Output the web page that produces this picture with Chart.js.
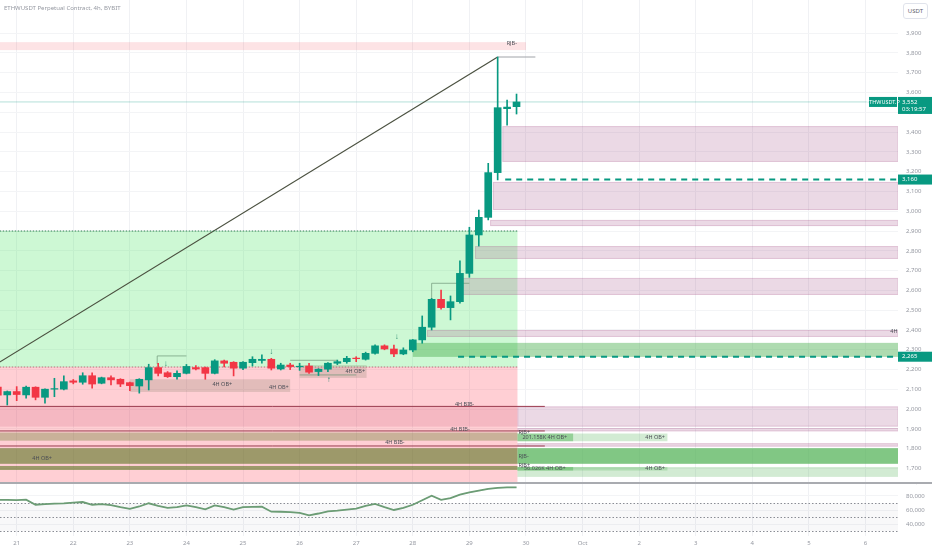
<!DOCTYPE html>
<html>
<head>
<meta charset="utf-8">
<title>ETHWUSDT 4h</title>
<script src="https://cdn.jsdelivr.net/npm/chart.js@4.4.1/dist/chart.umd.min.js"></script>
<style>
  html, body { margin: 0; padding: 0; background: #fff; }
  #wrap { position: relative; width: 932px; height: 550px; overflow: hidden; font-family: "Noto Sans", sans-serif; }
  #main { position: absolute; left: 0; top: 0; width: 932px; height: 484px; }
  #ind { position: absolute; left: 0; top: 484px; width: 932px; height: 66px; }
  #sep { position: absolute; left: 0; top: 482px; width: 932px; height: 2px; background: #a9abb0; }
  #title { position: absolute; left: 4px; top: 4px; font-size: 6px; color: #9598a1; }
  #unit { position: absolute; right: 4px; top: 3px; font-size: 6px; color: #5d606b; border: 1px solid #e0e3eb; border-radius: 3px; padding: 3px 4px; background: #fff; }
</style>
</head>
<body>
<div id="wrap">
  <div id="main"><canvas id="mainChart"></canvas></div>
  <div id="ind"><canvas id="indChart"></canvas></div>
  <div id="sep"></div>
  <div id="title">ETHWUSDT Perpetual Contract, 4h, BYBIT</div>
  <div id="unit">USDT</div>
</div>
<script>
// 4h candles, x = candle number (0 = 20 Sep 20:00, 1 = 21 Sep 00:00)
var FIRST_CANDLE = -1;
var OPEN  = [2111, 2072, 2089, 2072, 2111, 2060, 2101, 2101, 2143, 2136, 2169, 2131, 2159, 2151, 2134, 2117,
             2148, 2210, 2184, 2164, 2181, 2210, 2210, 2181, 2244, 2237, 2207, 2235, 2246, 2252, 2203, 2223,
             2214, 2218, 2190, 2202, 2232, 2240, 2258, 2252, 2282, 2320, 2304, 2279, 2299, 2350, 2414, 2555,
             2513, 2543, 2686, 2880, 2969, 3195, 3518, 3528];
var HIGH  = [2118, 2092, 2114, 2117, 2113, 2103, 2156, 2168, 2150, 2184, 2184, 2162, 2169, 2154, 2137, 2154,
             2227, 2232, 2190, 2194, 2226, 2220, 2213, 2250, 2248, 2240, 2240, 2265, 2274, 2257, 2232, 2232,
             2232, 2232, 2205, 2236, 2248, 2267, 2265, 2288, 2325, 2325, 2324, 2310, 2352, 2471, 2560, 2602,
             2572, 2750, 2919, 3006, 3242, 3779, 3562, 3592];
var LOW   = [2062, 2021, 2043, 2055, 2047, 2030, 2063, 2097, 2128, 2126, 2106, 2128, 2122, 2114, 2094, 2081,
             2097, 2168, 2160, 2151, 2178, 2198, 2151, 2178, 2213, 2168, 2200, 2218, 2232, 2198, 2198, 2200,
             2196, 2180, 2170, 2190, 2225, 2232, 2240, 2248, 2278, 2300, 2265, 2275, 2290, 2333, 2400, 2505,
             2451, 2535, 2666, 2824, 2956, 3158, 3435, 3491];
var CLOSE = [2071, 2089, 2074, 2111, 2060, 2101, 2104, 2139, 2136, 2169, 2127, 2159, 2148, 2127, 2119, 2151,
             2210, 2181, 2164, 2181, 2216, 2203, 2181, 2244, 2232, 2207, 2237, 2252, 2252, 2207, 2223, 2215,
             2217, 2187, 2202, 2232, 2240, 2257, 2255, 2282, 2320, 2304, 2279, 2299, 2350, 2414, 2555, 2513,
             2543, 2686, 2880, 2969, 3195, 3523, 3526, 3552];
// lower pane line, one value per candle
var FLOW  = [74500, 74500, 74000, 74700, 67500, 68500, 69000, 69500, 70500, 71400, 67500, 68500, 67000, 64000,
             61500, 65000, 69600, 66000, 63000, 64000, 66500, 64000, 61000, 66500, 64000, 60500, 64000, 64500,
             64700, 57600, 57500, 57000, 56000, 52400, 55000, 58000, 59000, 60500, 62000, 66000, 68600, 64000,
             60000, 63000, 67500, 74000, 80400, 74500, 77000, 82000, 85000, 87500, 90000, 91500, 92400, 92400];
var FLOW_LEVELS = [70000, 50000, 30000];

var DAY_TICKS  = [1, 7, 13, 19, 25, 31, 37, 43, 49, 55, 61, 67, 73, 79, 85, 91];
var DAY_LABELS = ['21', '22', '23', '24', '25', '26', '27', '28', '29', '30', 'Oct', '2', '3', '4', '5', '6'];
var PRICE_TICKS = [1700, 1800, 1900, 2000, 2100, 2200, 2300, 2400, 2500, 2600, 2700, 2800, 2900,
                   3000, 3100, 3200, 3300, 3400, 3500, 3600, 3700, 3800, 3900];
var FLOW_TICKS = [40000, 60000, 80000, 100000];

// zones: [from candle, to candle, top price, bottom price, kind]
var ZONES = [
  [-0.8, 55, 3854, 3814, 'rjb'],
  [-0.8, 54.1, 2900, 2213, 'bull'],
  [-0.8, 54.1, 2213, 1600, 'bear'],
  [-0.8, 54.1, 2014, 1912, 'bib'],
  [-0.8, 54.1, 1882, 1841, 'oliveLight'],
  [-0.8, 54.1, 1803, 1724, 'olive'],
  [-0.8, 54.1, 1713, 1693, 'olive'],
  [13, 30, 2151, 2087, 'ob'],
  [31, 38.1, 2223, 2158, 'ob'],
  [52.5, 94.5, 3430, 3249, 'mauve'],
  [51.5, 94.5, 3148, 3006, 'mauve'],
  [51.2, 94.5, 2956, 2925, 'mauve'],
  [49.6, 94.5, 2824, 2759, 'mauve'],
  [48.2, 94.5, 2663, 2577, 'mauve'],
  [44.5, 94.5, 2400, 2365, 'mauve'],
  [43.0, 94.5, 2335, 2264, 'green'],
  [54.1, 94.5, 2014, 1912, 'mauve'],
  [54.1, 94.5, 1905, 1888, 'mauve'],
  [54.1, 70, 1877, 1838, 'greenLight'],
  [54.1, 60, 1877, 1838, 'green'],
  [54.1, 94.5, 1828, 1811, 'mauve'],
  [54.1, 94.5, 1803, 1724, 'greenDark'],
  [54.1, 94.5, 1708, 1658, 'greenLight'],
  [54.1, 70, 1708, 1690, 'greenLight'],
  [54.1, 60, 1708, 1690, 'green']
];
// lines: [from candle, price, to candle, price, kind]
var LINES = [
  [-0.8, 3552, 94.5, 3552, 'last'],
  [-0.8, 2238, 52, 3779, 'trend'],
  [52, 3779, 56, 3779, 'thin'],
  [-0.8, 2900, 54.1, 2900, 'dotGreen'],
  [-0.8, 2213, 54.1, 2213, 'dotRed'],
  [-0.8, 2014, 57, 2014, 'bib'],
  [-0.8, 1890, 57, 1890, 'bib'],
  [-0.8, 1814, 57, 1814, 'bib'],
  [47.8, 2265, 94.5, 2265, 'dash'],
  [52.8, 3160, 94.5, 3160, 'dash'],
  [45, 2636, 49, 2636, 'swing'],
  [45, 2636, 45, 2560, 'swing'],
  [15.9, 2269, 19, 2269, 'swing'],
  [15.9, 2269, 15.9, 2228, 'swing'],
  [30, 2247, 35, 2247, 'swing'],
  [31, 2173, 37, 2173, 'swing']
];
// labels: [candle, price, text, align]
var LABELS = [
  [53.5, 3846, 'RJB-', 'center'],
  [48.5, 2024, '4H BIB-', 'center'],
  [48.0, 1899, '4H BIB-', 'center'],
  [41.1, 1830, '4H BIB-', 'center'],
  [54.2, 1880, 'RJB+', 'left'],
  [57.0, 1857, '201.158K 4H OB+', 'center'],
  [68.7, 1857, '4H OB+', 'center'],
  [54.2, 1760, 'RJB-', 'left'],
  [54.2, 1718, 'RJB+', 'left'],
  [57.0, 1699, '56.026K 4H OB+', 'center'],
  [68.7, 1699, '4H OB+', 'center'],
  [22.8, 2126, '4H OB+', 'center'],
  [28.8, 2109, '4H OB+', 'center'],
  [36.9, 2193, '4H OB+', 'center'],
  [3.7, 1752, '4H OB+', 'center'],
  [94.4, 2395, '4H', 'right']
];
var ARROWS = [[16.8, 2228, '\u2193'], [28, 2289, '\u2193'], [41.3, 2365, '\u2193'], [34.1, 2147, '\u2191']];
var BADGES = [[3552, '3,552', '03:19:57'], [3160, '3,160', ''], [2265, '2,265', '']];
var SYMBOL = 'ETHWUSDT.P';

var UP = '#089981', DOWN = '#f23645';
var ZONE_FILL = {
  rjb: 'rgba(242,54,69,0.14)',
  bull: 'rgba(76,230,100,0.28)',
  bear: 'rgba(255,82,100,0.28)',
  bib: 'rgba(190,60,100,0.16)',
  oliveLight: 'rgba(60,100,0,0.28)',
  olive: 'rgba(60,100,0,0.5)',
  ob: 'rgba(110,110,80,0.2)',
  mauve: 'rgba(165,80,135,0.22)',
  green: 'rgba(76,175,80,0.45)',
  greenLight: 'rgba(76,175,80,0.25)',
  greenDark: 'rgba(76,175,80,0.7)'
};
var LINE_STYLE = {
  last: ['rgba(8,153,129,0.3)', 1, []],
  trend: ['#4b5140', 1.2, []],
  thin: ['#a0a3a8', 1, []],
  swing: ['rgba(110,150,120,0.7)', 1, []],
  dotGreen: ['#2e7d52', 1, [1.5, 1.5]],
  dotRed: ['#b07078', 1, [1.5, 1.5]],
  bib: ['#9a3b4e', 1, []],
  dash: [UP, 2, [6, 5]]
};
var FONT = '"Noto Sans", sans-serif';
var X_MIN = -0.77, X_MAX = 94.45;

var candleX = OPEN.map(function (v, i) { return FIRST_CANDLE + i; });
var candleColor = OPEN.map(function (o, i) { return CLOSE[i] >= o ? UP : DOWN; });

function fmt(v) { return v.toLocaleString('en-US'); }

var overlay = {
  id: 'overlay',
  beforeDatasetsDraw: function (chart) {
    var ctx = chart.ctx, a = chart.chartArea, x = chart.scales.x, y = chart.scales.y;
    ctx.save();
    ctx.beginPath();
    ctx.rect(a.left, a.top, a.right - a.left, a.bottom - a.top);
    ctx.clip();
    ZONES.forEach(function (z) {
      var x0 = x.getPixelForValue(z[0]), x1 = x.getPixelForValue(z[1]);
      var y0 = y.getPixelForValue(z[2]), y1 = y.getPixelForValue(z[3]);
      ctx.fillStyle = ZONE_FILL[z[4]];
      ctx.fillRect(x0, y0, x1 - x0, y1 - y0);
      if (z[4] === 'mauve') {
        ctx.strokeStyle = 'rgba(165,80,135,0.18)';
        ctx.lineWidth = 1;
        ctx.strokeRect(x0 + 0.5, y0 + 0.5, x1 - x0 - 1, y1 - y0 - 1);
      }
    });
    LINES.forEach(function (l) {
      var s = LINE_STYLE[l[4]];
      ctx.strokeStyle = s[0];
      ctx.lineWidth = s[1];
      ctx.setLineDash(s[2]);
      ctx.beginPath();
      ctx.moveTo(x.getPixelForValue(l[0]), y.getPixelForValue(l[1]));
      ctx.lineTo(x.getPixelForValue(l[2]), y.getPixelForValue(l[3]));
      ctx.stroke();
    });
    ctx.setLineDash([]);
    ctx.restore();
  },
  afterDatasetsDraw: function (chart) {
    var ctx = chart.ctx, a = chart.chartArea, x = chart.scales.x, y = chart.scales.y;
    ctx.save();
    ctx.textBaseline = 'middle';
    ctx.font = '5.5px ' + FONT;
    ctx.fillStyle = '#4a4d55';
    LABELS.forEach(function (t) {
      ctx.textAlign = t[3];
      ctx.fillText(t[2], x.getPixelForValue(t[0]), y.getPixelForValue(t[1]));
    });
    ctx.font = 'bold 8px ' + FONT;
    ctx.textAlign = 'center';
    ctx.fillStyle = '#2f8a73';
    ARROWS.forEach(function (t) {
      ctx.fillText(t[2], x.getPixelForValue(t[0]), y.getPixelForValue(t[1]));
    });
    // price badges on the axis
    ctx.font = '6px ' + FONT;
    ctx.textAlign = 'left';
    BADGES.forEach(function (b) {
      var py = y.getPixelForValue(b[0]);
      var h = b[2] ? 17 : 10;
      ctx.fillStyle = UP;
      ctx.fillRect(a.right, py - 5, 34, h);
      ctx.fillStyle = '#fff';
      ctx.fillText(b[1], a.right + 4, py);
      if (b[2]) ctx.fillText(b[2], a.right + 4, py + 7);
    });
    var sy = y.getPixelForValue(BADGES[0][0]);
    ctx.fillStyle = UP;
    ctx.fillRect(a.right - 29, sy - 5, 28, 10);
    ctx.fillStyle = '#fff';
    ctx.font = '5.5px ' + FONT;
    ctx.textAlign = 'center';
    ctx.fillText(SYMBOL, a.right - 15, sy);
    ctx.restore();
  }
};

var flowBands = {
  id: 'flowBands',
  beforeDatasetsDraw: function (chart) {
    var ctx = chart.ctx, a = chart.chartArea, y = chart.scales.y;
    ctx.save();
    var yt = y.getPixelForValue(FLOW_LEVELS[0]), yb = y.getPixelForValue(FLOW_LEVELS[FLOW_LEVELS.length - 1]);
    ctx.fillStyle = 'rgba(120,123,134,0.05)';
    ctx.fillRect(a.left, yt, a.right - a.left, yb - yt);
    ctx.strokeStyle = '#8a8d95';
    ctx.lineWidth = 1;
    ctx.setLineDash([1.5, 2]);
    FLOW_LEVELS.forEach(function (v) {
      var py = Math.round(y.getPixelForValue(v)) + 0.5;
      ctx.beginPath();
      ctx.moveTo(a.left, py);
      ctx.lineTo(a.right, py);
      ctx.stroke();
    });
    ctx.restore();
  }
};

function noPadding(s) {
  s.paddingTop = 0; s.paddingBottom = 0; s.paddingLeft = 0; s.paddingRight = 0;
}

function xScale(showLabels) {
  return {
    type: 'linear', min: X_MIN, max: X_MAX, offset: false,
    afterBuildTicks: function (s) { s.ticks = DAY_TICKS.map(function (v) { return { value: v }; }); },
    afterFit: function (s) { s.height = showLabels ? 14 : 0; noPadding(s); },
    grid: { color: '#f0f1f4', drawTicks: false, offset: false },
    border: { display: false },
    ticks: {
      display: showLabels, padding: 4, maxRotation: 0, autoSkip: false, color: '#9598a1',
      font: { family: FONT, size: 6 },
      callback: function (v) { return DAY_LABELS[DAY_TICKS.indexOf(v)]; }
    }
  };
}
function yScale(min, max, ticks) {
  return {
    position: 'right', min: min, max: max,
    afterBuildTicks: function (s) { s.ticks = ticks.map(function (v) { return { value: v }; }); },
    afterFit: function (s) { s.width = 34; noPadding(s); },
    grid: { color: '#f3f4f6', drawTicks: false },
    border: { display: false },
    ticks: { padding: 8, color: '#9598a1', font: { family: FONT, size: 6 }, callback: function (v) { return fmt(v); } }
  };
}

var common = {
  responsive: true, maintainAspectRatio: false, animation: false, devicePixelRatio: 1,
  layout: { padding: 0 },
  plugins: { legend: { display: false }, tooltip: { enabled: false } }
};

new Chart(document.getElementById('mainChart'), {
  type: 'bar',
  data: {
    datasets: [
      {
        label: 'wick', grouped: false, barThickness: 1,
        data: candleX.map(function (k, i) { return { x: k, y: [LOW[i], HIGH[i]] }; }),
        backgroundColor: candleColor
      },
      {
        label: 'body', grouped: false, barThickness: 7,
        data: candleX.map(function (k, i) { return { x: k, y: [OPEN[i], CLOSE[i]] }; }),
        backgroundColor: candleColor
      }
    ]
  },
  options: Object.assign({}, common, {
    scales: { x: xScale(false), y: yScale(1622, 4067, PRICE_TICKS) }
  }),
  plugins: [overlay]
});

new Chart(document.getElementById('indChart'), {
  type: 'line',
  data: {
    datasets: [
      { data: candleX.map(function (k, i) { return { x: k, y: FLOW[i] }; }), borderColor: '#6c9c75', borderWidth: 1.8, pointRadius: 0, tension: 0 },
      { data: candleX.map(function (k, i) { return { x: k, y: FLOW[i] }; }), borderColor: '#b3dcb9', borderWidth: 0.6, pointRadius: 0, tension: 0 }
    ]
  },
  options: Object.assign({}, common, {
    scales: { x: xScale(true), y: yScale(22900, 97100, FLOW_TICKS) }
  }),
  plugins: [flowBands]
});
</script>
</body>
</html>
